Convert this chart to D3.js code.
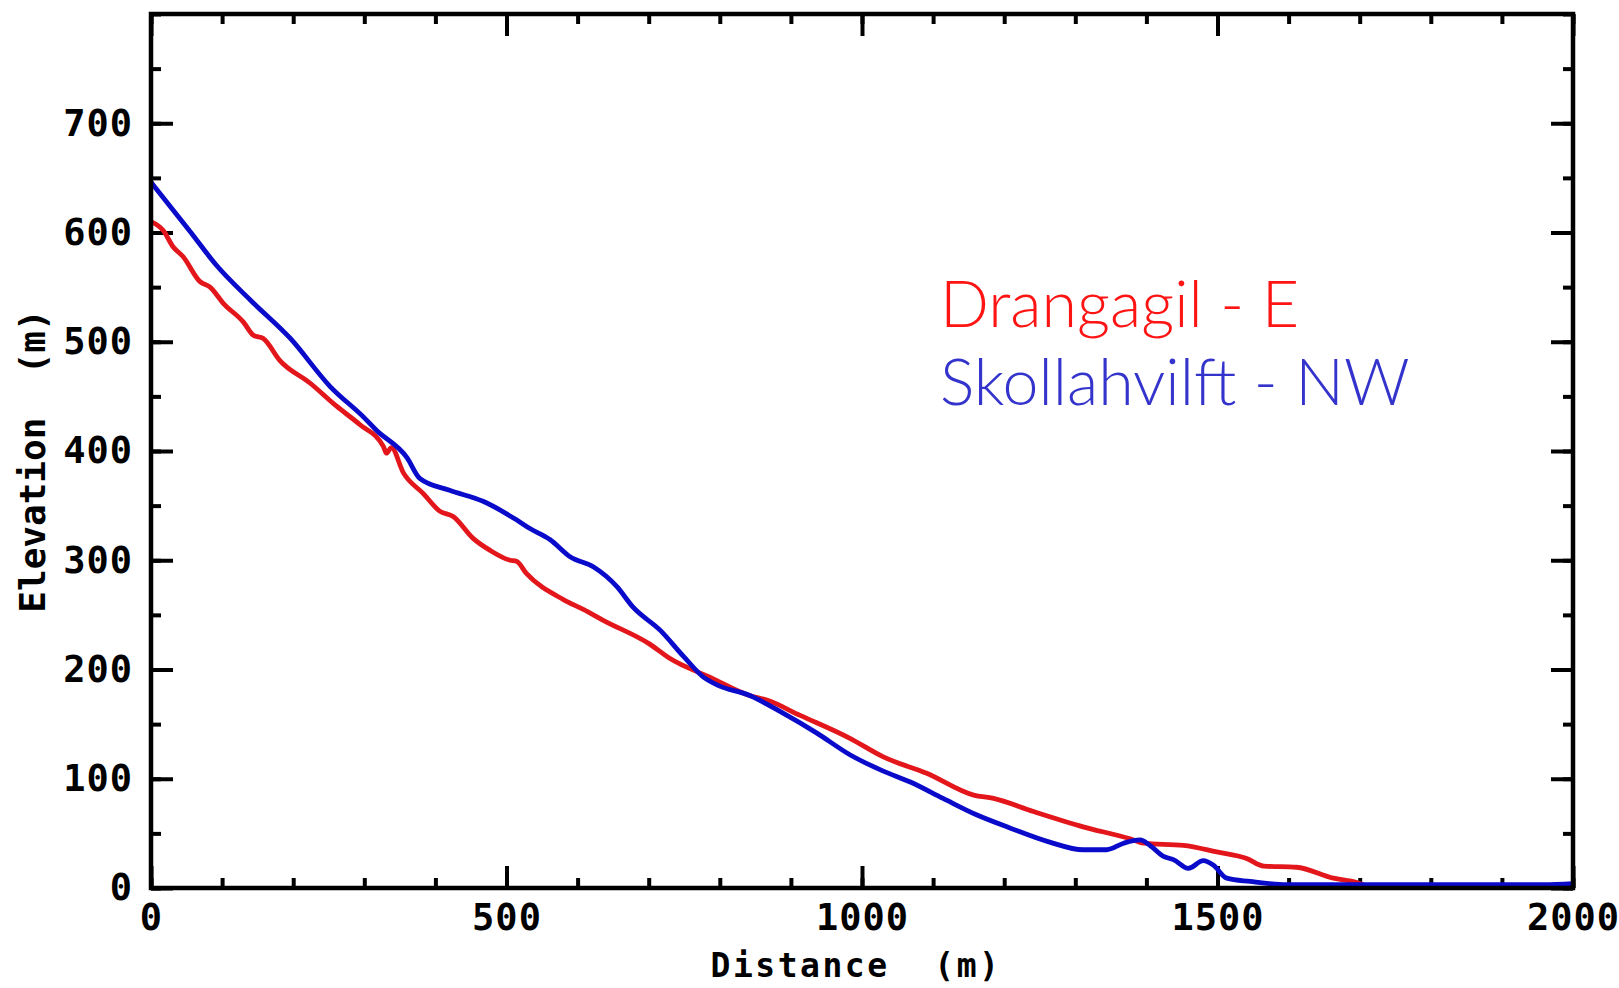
<!DOCTYPE html>
<html>
<head>
<meta charset="utf-8">
<script src="https://cdn.jsdelivr.net/npm/d3@7"></script>
<style>
html,body{margin:0;padding:0;background:#fff;}
svg{display:block;}
</style>
</head>
<body>
<svg id="chart" width="1619" height="988"></svg>
<script>
// ---- Data ----
const seriesNames = ["Drangagil - E", "Skollahvilft - NW"];
const drangagilDist = [0,17,31,45,69,83,102,130,144,158,181,224,261,294,327,331,338,355,383,406,425,453,477,505,514,528,580,608,636,702,730,786,843,866,913,983,1030,1091,1157,1185,1241,1311,1377,1396,1452,1499,1541,1565,1611,1663,1696,1705];
const drangagilElev = [610,602,587,578,555,550,535,518,506,503,483,462,441,424,404,398,403,380,361,345,340,320,309,300,299,288,264,255,245,223,210,193,176,172,158,137,120,105,85,82,70,56,45,41,39,33,27,20,19,9,5,3];
const skollDist = [0,55,92,140,196,252,299,317,360,378,420,467,514,533,561,590,622,655,678,716,749,777,796,843,889,936,983,1030,1068,1114,1161,1208,1264,1311,1344,1368,1391,1405,1424,1438,1459,1480,1494,1513,1546,1598,1800,1960,2000];
const skollElev = [646,601,570,538,503,459,431,419,394,375,364,354,337,329,319,303,294,276,257,236,212,193,186,176,160,142,122,107,97,82,67,55,42,35,35,41,44,39,29,26,18,25,21,9,6,3,3,3,4];
const xMajorTicks = [0,500,1000,1500,2000];
const xMinorTicks = d3.range(0,2001,100);
const yMajorTicks = [0,100,200,300,400,500,600,700];
const yMinorTicks = d3.range(0,801,50);
const xTitle = "Distance  (m)";
const yTitle = "Elevation  (m)";

// ---- Layout ----
const svg = d3.select("#chart");
const L = 151, T = 14, W = 1422, H = 874;
const x = d3.scaleLinear().domain([0,2000]).range([0,W]);
const y = d3.scaleLinear().domain([0,800]).range([H,0]);
const g = svg.append("g").attr("transform",`translate(${L},${T})`);

const tickFont = "'DejaVu Sans Mono', monospace";
function styleAxis(sel, showLabels){
  sel.select(".domain").remove();
  sel.selectAll(".tick line").attr("stroke","#000").attr("stroke-width",4);
  if(!showLabels) sel.selectAll(".tick text").remove();
  else sel.selectAll(".tick text")
      .attr("font-family",tickFont).attr("font-weight","bold")
      .attr("font-size",37).attr("letter-spacing",1).attr("fill","#000");
}

// minor ticks
g.append("g").attr("transform",`translate(0,${H})`)
  .call(d3.axisBottom(x).tickValues(xMinorTicks).tickSize(-10).tickFormat(""))
  .call(s=>styleAxis(s,false));
g.append("g")
  .call(d3.axisTop(x).tickValues(xMinorTicks).tickSize(-10).tickFormat(""))
  .call(s=>styleAxis(s,false));
g.append("g")
  .call(d3.axisLeft(y).tickValues(yMinorTicks).tickSize(-10).tickFormat(""))
  .call(s=>styleAxis(s,false));
g.append("g").attr("transform",`translate(${W},0)`)
  .call(d3.axisRight(y).tickValues(yMinorTicks).tickSize(-10).tickFormat(""))
  .call(s=>styleAxis(s,false));

// major ticks
g.append("g").attr("transform",`translate(0,${H})`)
  .call(d3.axisBottom(x).tickValues(xMajorTicks).tickSize(-22).tickPadding(16).tickFormat(d3.format("d")))
  .call(s=>styleAxis(s,true));
g.append("g")
  .call(d3.axisTop(x).tickValues(xMajorTicks).tickSize(-22).tickFormat(""))
  .call(s=>styleAxis(s,false));
g.append("g")
  .call(d3.axisLeft(y).tickValues(yMajorTicks).tickSize(-22).tickPadding(18).tickFormat(d3.format("d")))
  .call(s=>styleAxis(s,true));
g.append("g").attr("transform",`translate(${W},0)`)
  .call(d3.axisRight(y).tickValues(yMajorTicks).tickSize(-22).tickFormat(""))
  .call(s=>styleAxis(s,false));

// lines
const line = d3.line().x(d=>x(d[0])).y(d=>y(d[1])).curve(d3.curveMonotoneX);
const red = d3.zip(drangagilDist, drangagilElev);
const blue = d3.zip(skollDist, skollElev);
g.append("path").datum(red).attr("d",line).attr("fill","none")
  .attr("stroke","#e3171b").attr("stroke-width",4.8).attr("stroke-linejoin","round");
g.append("path").datum(blue).attr("d",line).attr("fill","none")
  .attr("stroke","#0a0acb").attr("stroke-width",4.8).attr("stroke-linejoin","round");

// frame
g.append("rect").attr("x",0).attr("y",0).attr("width",W).attr("height",H)
  .attr("fill","none").attr("stroke","#000").attr("stroke-width",4.5);

// axis titles
svg.append("text").attr("x",L+W/2-6).attr("y",977).attr("text-anchor","middle")
  .attr("font-family",tickFont).attr("font-weight","bold").attr("font-size",33)
  .attr("letter-spacing",2.5).style("white-space","pre").text(xTitle);
svg.append("text").attr("transform",`translate(45,${T+H/2+10}) rotate(-90)`)
  .attr("text-anchor","middle")
  .attr("font-family",tickFont).attr("font-weight","bold").attr("font-size",36)
  .attr("letter-spacing",0).style("white-space","pre").text(yTitle);

// legend
const legColors = ["#ff1414","#3434cc"];
svg.selectAll("text.leg").data(seriesNames).enter().append("text").attr("class","leg")
  .attr("x",940).attr("y",(d,i)=>327+i*78)
  .attr("font-family","Lato, 'Open Sans', sans-serif").attr("font-weight",300)
  .attr("font-size",64.5).attr("fill",(d,i)=>legColors[i]).text(d=>d);
</script>
</body>
</html>
